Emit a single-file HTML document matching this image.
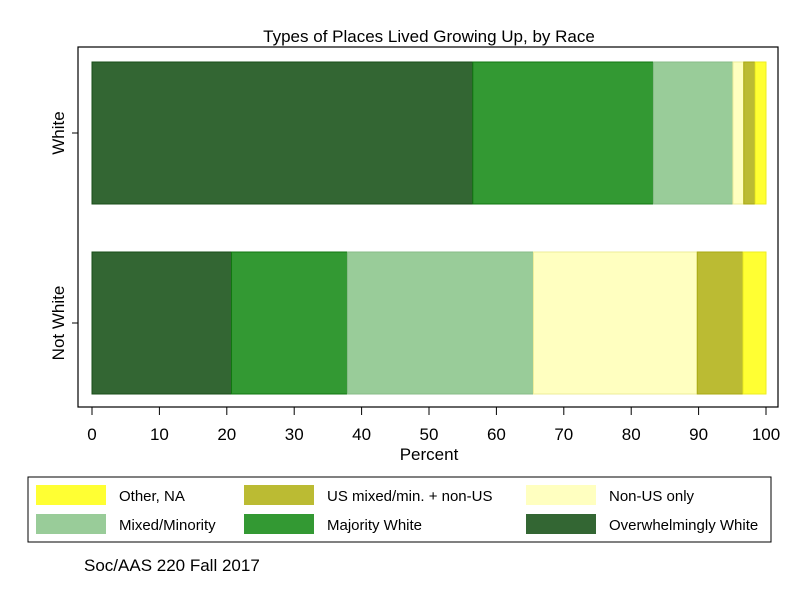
<!DOCTYPE html>
<html><head><meta charset="utf-8"><style>
body{margin:0;background:#fff;font-family:"Liberation Sans",sans-serif}
</style></head><body>
<svg width="800" height="600" xmlns="http://www.w3.org/2000/svg" font-family="Liberation Sans, sans-serif">
<rect x="0" y="0" width="800" height="600" fill="#fff"/>
<text x="429" y="42" font-size="17" text-anchor="middle">Types of Places Lived Growing Up, by Race</text>
<rect x="78" y="47" width="700" height="360" fill="none" stroke="#000" stroke-width="1.2"/>
<g id="bars"></g>
<g id="xaxis"></g>
<text x="429" y="460" font-size="17" text-anchor="middle">Percent</text>
<rect x="28" y="477" width="743" height="65" fill="none" stroke="#000" stroke-width="1"/>
<g id="legend"></g>
<text x="84" y="571" font-size="17">Soc/AAS 220 Fall 2017</text>
</svg>
<script>
const groups=["White","Not White"];
const seriesNames=["Overwhelmingly White","Majority White","Mixed/Minority","Non-US only","US mixed/min. + non-US","Other, NA"];
const whiteVals=[56.5,26.8,11.8,1.6,1.7,1.6];
const notWhiteVals=[20.7,17.2,27.6,24.3,6.8,3.4];
const xTicks=[0,10,20,30,40,50,60,70,80,90,100];
const fills=["#336633","#339933","#99cc99","#ffffc0","#bbbb33","#ffff33"];
const strokes=["#1a4d1a","#117711","#88bb88","#eeee99","#aaaa11","#eeee22"];
const NS="http://www.w3.org/2000/svg";
const X=v=>92+v*6.74;
const bandTop=[62,252], bandH=142;
const bars=document.getElementById('bars');
[whiteVals,notWhiteVals].forEach((vals,gi)=>{
  let cum=0;
  vals.forEach((v,si)=>{
    const r=document.createElementNS(NS,'rect');
    r.setAttribute('x',X(cum));r.setAttribute('width',X(cum+v)-X(cum));
    r.setAttribute('y',bandTop[gi]);r.setAttribute('height',bandH);
    r.setAttribute('fill',fills[si]);r.setAttribute('stroke',strokes[si]);r.setAttribute('stroke-width','1');
    
    
    bars.appendChild(r);cum+=v;
  });
  const yc=bandTop[gi]+bandH/2;
  const t=document.createElementNS(NS,'line');
  t.setAttribute('x1',72);t.setAttribute('x2',78);t.setAttribute('y1',yc);t.setAttribute('y2',yc);t.setAttribute('stroke','#000');
  
  
  bars.appendChild(t);
  const l=document.createElementNS(NS,'text');
  l.setAttribute('transform','translate(64,'+yc+') rotate(-90)');
  l.setAttribute('text-anchor','middle');l.setAttribute('font-size','17');
  l.textContent=groups[gi];
  
  
  bars.appendChild(l);
});
const xa=document.getElementById('xaxis');
xTicks.forEach(v=>{
  const t=document.createElementNS(NS,'line');
  t.setAttribute('x1',X(v));t.setAttribute('x2',X(v));t.setAttribute('y1',407);t.setAttribute('y2',415);t.setAttribute('stroke','#000');
  
  
  xa.appendChild(t);
  const l=document.createElementNS(NS,'text');
  l.setAttribute('x',X(v));l.setAttribute('y',440);l.setAttribute('text-anchor','middle');l.setAttribute('font-size','17');
  l.textContent=v;
  
  
  xa.appendChild(l);
});
const lg=document.getElementById('legend');
const order=[5,4,3,2,1,0];
const lx=[36,244,526], ly=[485,514];
order.forEach((si,k)=>{
  const c=k%3,r=Math.floor(k/3);
  const s=document.createElementNS(NS,'rect');
  s.setAttribute('x',lx[c]);s.setAttribute('y',ly[r]);s.setAttribute('width',70);s.setAttribute('height',20);
  s.setAttribute('fill',fills[si]);
  
  
  lg.appendChild(s);
  const t=document.createElementNS(NS,'text');
  t.setAttribute('x',lx[c]+83);t.setAttribute('y',ly[r]+16);t.setAttribute('font-size','15');
  t.textContent=seriesNames[si];
  
  
  lg.appendChild(t);
});
</script>
</body></html>
